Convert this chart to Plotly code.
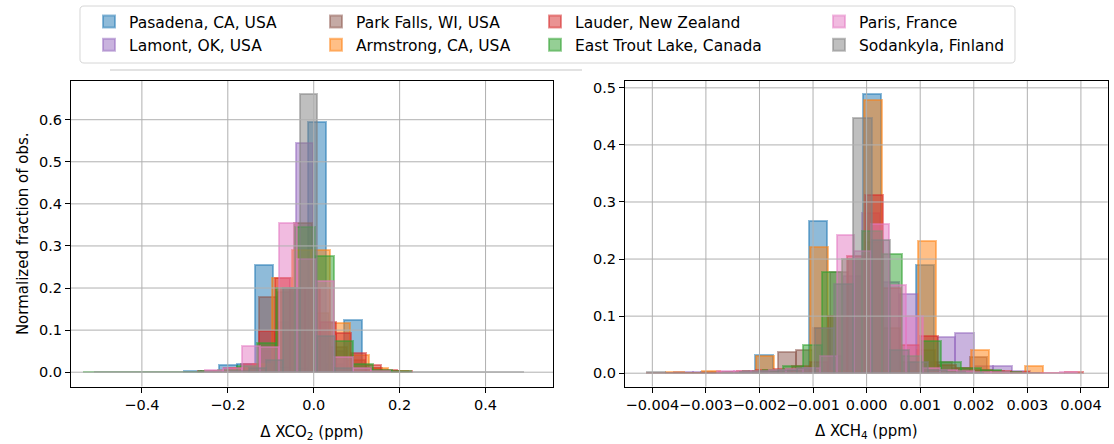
import numpy as np
import plotly.graph_objects as go

# ---------------- data ----------------
sites = ["Pasadena, CA, USA", "Lamont, OK, USA", "Park Falls, WI, USA", "Armstrong, CA, USA",
         "Lauder, New Zealand", "East Trout Lake, Canada", "Paris, France", "Sodankyla, Finland"]
colors = ["#1f77b4", "#9467bd", "#8c564b", "#ff7f0e", "#d62728", "#2ca02c", "#e377c2", "#7f7f7f"]
legend_cols = ["legend", "legend", "legend2", "legend2", "legend3", "legend3", "legend4", "legend4"]

# XCO2 histograms: first bin centre, bin width (ppm), fraction per bin
co2_start = [-0.282, -0.142, -0.23, -0.209, -0.2505, -0.515, -0.232, -0.4916]
co2_width = [0.0415, 0.04, 0.041, 0.045, 0.0355, 0.045, 0.043, 0.04]
co2_pasadena = [0.003, 0.002, 0.016, 0.02, 0.255, 0.012, 0.01, 0.595, 0.02, 0.125, 0.01, 0.003]
co2_lamont = [0.01, 0.05, 0.12, 0.545, 0.2, 0.05, 0.02, 0.005]
co2_parkfalls = [0.003, 0.01, 0.02, 0.179, 0.19, 0.355, 0.14, 0.06, 0.03, 0.01, 0.003]
co2_armstrong = [0.003, 0.01, 0.02, 0.224, 0.29, 0.29, 0.118, 0.04, 0.01, 0.003]
co2_lauder = [0.002, 0.003, 0.01, 0.02, 0.097, 0.225, 0.2, 0.2, 0.12, 0.094, 0.046, 0.017, 0.005, 0.002]
co2_easttrout = [0.001, 0.001, 0.001, 0.001, 0.001, 0.001, 0.002, 0.005, 0.015, 0.07, 0.2, 0.345,
                 0.275, 0.073, 0.02, 0.005, 0.002]
co2_paris = [0.005, 0.01, 0.063, 0.06, 0.355, 0.27, 0.216, 0.037, 0.01, 0.003]
co2_sodankyla = [0.001, 0.001, 0.001, 0.001, 0.001, 0.001, 0.001, 0.001, 0.003, 0.01, 0.03, 0.2,
                 0.66, 0.086, 0.01, 0.001, 0.001, 0.001, 0.001, 0.001, 0.001, 0.001, 0.001, 0.001, 0.001]

# XCH4 histograms
ch4_start = [-0.002922, -0.00342, -0.002465, -0.00357, -0.003943, -0.00249, -0.00263, -0.003931]
ch4_width = [0.000335, 0.00035, 0.000325, 0.000335, 0.00034, 0.00037, 0.00032, 0.00035]
ch4_pasadena = [0.002, 0.001, 0.001, 0.032, 0.002, 0.002, 0.267, 0.003, 0.004, 0.489, 0.004, 0.003,
                0.19, 0.002, 0.001, 0.003]
ch4_lamont = [0.002, 0.002, 0.002, 0.002, 0.003, 0.004, 0.006, 0.01, 0.03, 0.17, 0.28, 0.16, 0.139,
              0.02, 0.064, 0.071, 0.012, 0.012, 0.003]
ch4_parkfalls = [0.002, 0.003, 0.004, 0.037, 0.04, 0.08, 0.177, 0.2, 0.23, 0.08, 0.02, 0.04, 0.02,
                 0.01, 0.028, 0.003]
ch4_armstrong = [0.002, 0.001, 0.003, 0.001, 0.001, 0.03, 0.001, 0.002, 0.222, 0.003, 0.003, 0.478,
                 0.003, 0.003, 0.232, 0.002, 0.001, 0.041, 0.001, 0.001, 0.012]
ch4_lauder = [0.001, 0.001, 0.001, 0.001, 0.002, 0.003, 0.006, 0.008, 0.012, 0.02, 0.1, 0.205, 0.312,
              0.15, 0.05, 0.065, 0.015, 0.01, 0.006, 0.003, 0.002, 0.001, 0.001, 0.002]
ch4_easttrout = [0.002, 0.004, 0.006, 0.012, 0.05, 0.177, 0.2, 0.25, 0.209, 0.03, 0.057, 0.02, 0.01,
                 0.006, 0.002, 0.001]
ch4_paris = [0.003, 0.003, 0.004, 0.005, 0.008, 0.01, 0.03, 0.242, 0.215, 0.261, 0.155, 0.1, 0.01,
             0.005, 0.003, 0.002, 0.002, 0.001, 0.001, 0.001, 0.002]
ch4_sodankyla = [0.002, 0.001, 0.001, 0.001, 0.001, 0.002, 0.003, 0.005, 0.01, 0.08, 0.156, 0.447,
                 0.233, 0.04, 0.02, 0.005, 0.002, 0.001]

co2_values = [co2_pasadena, co2_lamont, co2_parkfalls, co2_armstrong, co2_lauder, co2_easttrout,
              co2_paris, co2_sodankyla]
ch4_values = [ch4_pasadena, ch4_lamont, ch4_parkfalls, ch4_armstrong, ch4_lauder, ch4_easttrout,
              ch4_paris, ch4_sodankyla]

co2_xticks = [-0.4, -0.2, 0.0, 0.2, 0.4]
co2_yticks = [0.0, 0.1, 0.2, 0.3, 0.4, 0.5, 0.6]
ch4_xticks = [-0.004, -0.003, -0.002, -0.001, 0.0, 0.001, 0.002, 0.003, 0.004]
ch4_yticks = [0.0, 0.1, 0.2, 0.3, 0.4, 0.5]

# ---------------- figure ----------------
W, H = 1114, 444
FONT = "DejaVu Sans"
TICK_SIZE = 14.5
LABEL_SIZE = 15
LEGEND_SIZE = 15.5


def rgba(hexc, a):
    h = hexc.lstrip("#")
    return "rgba(%d,%d,%d,%.2f)" % (int(h[0:2], 16), int(h[2:4], 16), int(h[4:6], 16), a)


fig = go.Figure()
for panel, (starts, widths, vals, xa, ya) in enumerate([
        (co2_start, co2_width, co2_values, "x", "y"),
        (ch4_start, ch4_width, ch4_values, "x2", "y2")]):
    for i, name in enumerate(sites):
        v = vals[i]
        centers = starts[i] + widths[i] * np.arange(len(v))
        fig.add_trace(go.Bar(
            x=centers, y=v, width=widths[i], name=name,
            marker=dict(color=rgba(colors[i], 0.5),
                        line=dict(color=rgba(colors[i], 0.5), width=2)),
            xaxis=xa, yaxis=ya, showlegend=(panel == 0),
            legend=legend_cols[i], legendgroup=name,
        ))

ax_common = dict(showline=True, mirror=True, linecolor="black", linewidth=1,
                 ticks="outside", ticklen=5, tickcolor="black", showgrid=False,
                 zeroline=False, automargin=False, tickangle=0,
                 tickfont=dict(family=FONT, size=TICK_SIZE, color="black"))

y_top = 1 - 81 / H
y_bot = 1 - 386.5 / H
fig.update_layout(
    width=W, height=H, margin=dict(l=0, r=0, t=0, b=0),
    paper_bgcolor="white", plot_bgcolor="white", barmode="overlay", bargap=0,
    font=dict(family=FONT, size=TICK_SIZE, color="black"),
    xaxis=dict(domain=[71 / W, 553 / W], range=[-0.565, 0.557], tickvals=co2_xticks,
               tickformat=".1f", anchor="y",
               title=dict(text="Δ XCO<sub>2</sub> (ppm)", standoff=14,
                          font=dict(family=FONT, size=LABEL_SIZE)), **ax_common),
    yaxis=dict(domain=[y_bot, y_top], range=[-0.034, 0.692], tickvals=co2_yticks,
               tickformat=".1f", anchor="x",
               title=dict(text="Normalized fraction of obs.", standoff=6,
                          font=dict(family=FONT, size=LABEL_SIZE)), **ax_common),
    xaxis2=dict(domain=[625 / W, 1107.7 / W], range=[-0.00451, 0.0045], tickvals=ch4_xticks,
                tickformat=".3f", anchor="y2",
                title=dict(text="Δ XCH<sub>4</sub> (ppm)", standoff=13,
                           font=dict(family=FONT, size=LABEL_SIZE)), **ax_common),
    yaxis2=dict(domain=[y_bot, y_top], range=[-0.0233, 0.512], tickvals=ch4_yticks,
                tickformat=".1f", anchor="x2", **ax_common),
)

leg_common = dict(orientation="v", xanchor="left", yanchor="top", y=1 - 5 / H,
                  bgcolor="rgba(0,0,0,0)", borderwidth=0, tracegroupgap=0,
                  font=dict(family=FONT, size=LEGEND_SIZE, color="black"))
fig.update_layout(
    legend=dict(x=89 / W, **leg_common),
    legend2=dict(x=316 / W, **leg_common),
    legend3=dict(x=535 / W, **leg_common),
    legend4=dict(x=819 / W, **leg_common),
)

shapes = []
# grid lines above bars (matplotlib draws grid over patches)
for xv in co2_xticks:
    shapes.append(dict(type="line", xref="x", yref="y domain", x0=xv, x1=xv, y0=0, y1=1,
                       line=dict(color="#b0b0b0", width=1), layer="above"))
for yv in co2_yticks:
    shapes.append(dict(type="line", xref="x domain", yref="y", x0=0, x1=1, y0=yv, y1=yv,
                       line=dict(color="#b0b0b0", width=1), layer="above"))
for xv in ch4_xticks:
    shapes.append(dict(type="line", xref="x2", yref="y2 domain", x0=xv, x1=xv, y0=0, y1=1,
                       line=dict(color="#b0b0b0", width=1), layer="above"))
for yv in ch4_yticks:
    shapes.append(dict(type="line", xref="x2 domain", yref="y2", x0=0, x1=1, y0=yv, y1=yv,
                       line=dict(color="#b0b0b0", width=1), layer="above"))

# legend frame (rounded) and the thin line beneath it
x0, x1, yt, yb, r = 80, 1015, 6, 63, 4
path = ("M %f,%f L %f,%f Q %f,%f %f,%f L %f,%f Q %f,%f %f,%f L %f,%f Q %f,%f %f,%f L %f,%f Q %f,%f %f,%f Z" % (
    (x0 + r) / W, 1 - yt / H, (x1 - r) / W, 1 - yt / H, x1 / W, 1 - yt / H, x1 / W, 1 - (yt + r) / H,
    x1 / W, 1 - (yb - r) / H, x1 / W, 1 - yb / H, (x1 - r) / W, 1 - yb / H,
    (x0 + r) / W, 1 - yb / H, x0 / W, 1 - yb / H, x0 / W, 1 - (yb - r) / H,
    x0 / W, 1 - (yt + r) / H, x0 / W, 1 - yt / H, (x0 + r) / W, 1 - yt / H))
shapes.append(dict(type="path", xref="paper", yref="paper", path=path,
                   line=dict(color="#d6d6d6", width=1), fillcolor="rgba(255,255,255,0.8)",
                   layer="below"))
shapes.append(dict(type="line", xref="paper", yref="paper", x0=110 / W, x1=582 / W,
                   y0=1 - 70 / H, y1=1 - 70 / H, line=dict(color="#d9d9d9", width=1.5)))
fig.update_layout(shapes=shapes)

fig.write_html("out.html")
